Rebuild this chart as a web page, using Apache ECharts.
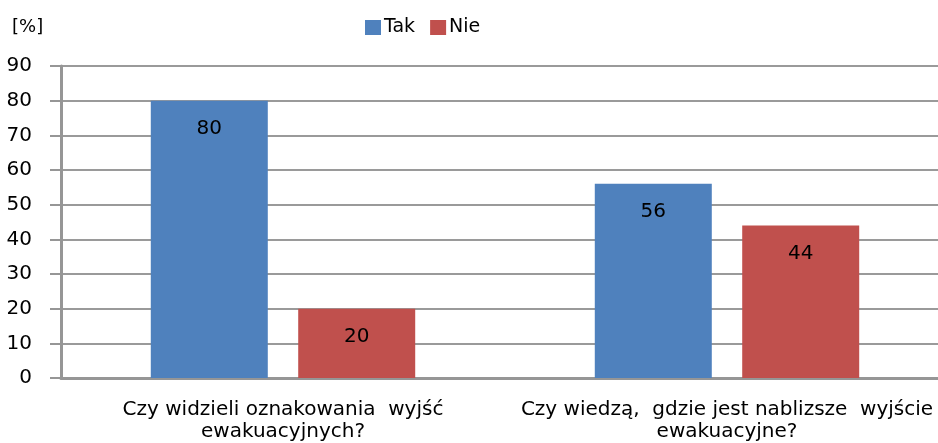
<!DOCTYPE html>
<html>
<head>
<meta charset="utf-8">
<script src="https://cdn.jsdelivr.net/npm/echarts@6/dist/echarts.min.js"></script>
<style>
html,body{margin:0;padding:0;background:#fff;overflow:hidden;}
#chart{width:949px;height:443px;}
</style>
</head>
<body>
<div id="chart"></div>
<script>
// dane z wykresu
var categories = ['Czy widzieli oznakowania  wyjść\newakuacyjnych?', 'Czy wiedzą,  gdzie jest nablizsze  wyjście\newakuacyjne?'];
var seriesNames = ['Tak', 'Nie'];
var takValues = [80, 56];
var nieValues = [20, 44];
var yTicks = [0, 10, 20, 30, 40, 50, 60, 70, 80, 90];

var font = '"DejaVu Sans", sans-serif';

var option = {
	animation: false,
	backgroundColor: '#ffffff',
	color: ['#4F81BD', '#C0504D'],
	title: {text: '[%]', left: 7, top: 13, textStyle: {fontFamily: font, fontSize: 18, fontWeight: 'normal', color: '#000'}},
	legend: {
		left: 360, top: 13,
		itemWidth: 16, itemHeight: 15, itemGap: 15,
		icon: 'rect',
		textStyle: {fontFamily: font, fontSize: 19, color: '#000', padding: [0, 0, 0, -2]},
		data: seriesNames
	},
	grid: {left: 61, right: 0, top: 66, bottom: 64},
	xAxis: {
		type: 'category',
		data: categories,
		axisLine: {lineStyle: {color: '#969696', width: 3}},
		axisTick: {show: false},
		axisLabel: {interval: 0, fontFamily: font, fontSize: 20, color: '#000', margin: 21, lineHeight: 22}
	},
	yAxis: {
		type: 'value',
		min: yTicks[0], max: yTicks[yTicks.length - 1], interval: 10,
		axisLine: {show: true, lineStyle: {color: '#969696', width: 3}},
		axisTick: {show: true, length: 11, lineStyle: {color: '#969696', width: 2}},
		splitLine: {lineStyle: {color: '#9a9a9a', width: 2}},
		axisLabel: {fontFamily: font, fontSize: 20, color: '#000', margin: 29}
	},
	series: [
		{
			name: seriesNames[0], type: 'bar', barWidth: 117, barGap: '26%',
			label: {show: true, position: 'insideTop', distance: 18, fontFamily: font, fontSize: 20, color: '#000'},
			data: takValues
		},
		{
			name: seriesNames[1], type: 'bar', barWidth: 117,
			label: {show: true, position: 'insideTop', distance: 18, fontFamily: font, fontSize: 20, color: '#000'},
			data: nieValues
		}
	]
};

var myChart = echarts.init(document.getElementById('chart'));
myChart.setOption(option);
</script>
</body>
</html>
